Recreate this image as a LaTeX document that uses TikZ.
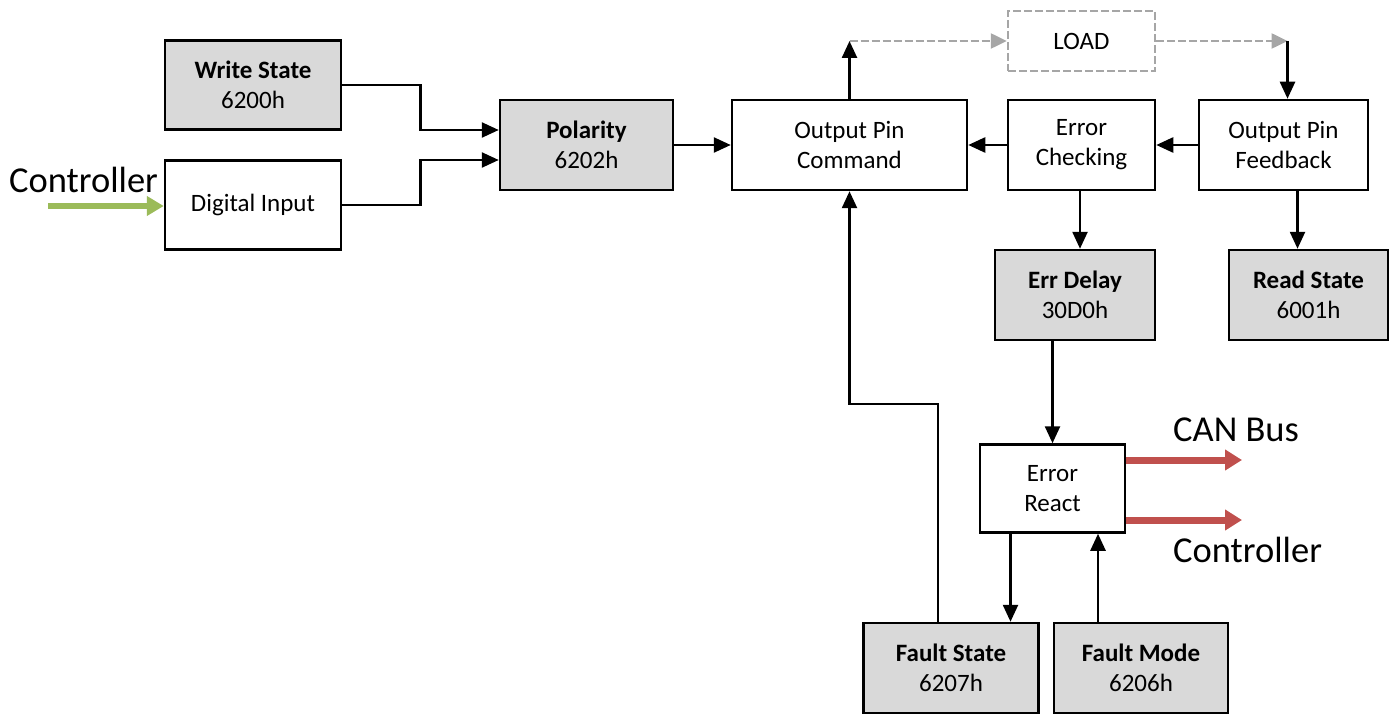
\documentclass[tikz,border=0pt]{standalone}
\usepackage{fontspec}
\setmainfont{Carlito}
\usetikzlibrary{arrows.meta,calc}
\definecolor{boxgray}{HTML}{D9D9D9}
\definecolor{loadgray}{HTML}{A6A6A6}
\definecolor{redarr}{HTML}{C0504D}
\definecolor{greenarr}{HTML}{9BBB59}
\tikzset{
  wbox/.style={draw=black, line width=2.5pt, fill=white, align=center, inner sep=0pt,
    font=\fontsize{25}{30}\selectfont},
  gbox/.style={wbox, fill=boxgray},
  loadbox/.style={draw=loadgray, line width=2.5pt, dash pattern=on 8pt off 3pt, align=center,
    font=\fontsize{25}{30}\selectfont, inner sep=0pt},
  conn/.style={draw=black, line width=2.5pt, -{Triangle[length=17pt,width=15pt]}},
  gconn/.style={draw=loadgray, line width=2.5pt, dash pattern=on 8pt off 3pt, -{Triangle[length=16pt,width=15pt]}},
  redconn/.style={draw=redarr, line width=7pt, -{Triangle[length=17pt,width=20pt]}},
  greenconn/.style={draw=greenarr, line width=6pt, -{Triangle[length=17pt,width=19pt]}},
  biglabel/.style={font=\fontsize{36.5}{40}\selectfont, inner sep=0pt},
}
\begin{document}
\begin{tikzpicture}[x=1pt,y=-1pt]
\useasboundingbox (0,0) rectangle (1394,714);
% boxes
\node[gbox, minimum width=176pt, minimum height=89pt] (ws) at (253,85) {\textbf{Write State}\\6200h};
\node[wbox, minimum width=176pt, minimum height=89pt] (di) at (253,205) {Digital Input};
\node[gbox, minimum width=173pt, minimum height=90pt] (pol) at (586.5,145) {\textbf{Polarity}\\6202h};
\node[wbox, minimum width=235pt, minimum height=90pt] (opc) at (849.5,145) {Output Pin\\Command};
\node[wbox, minimum width=147pt, minimum height=90pt] (ec) at (1081.5,145) {Error\\Checking};
\node[wbox, minimum width=169pt, minimum height=90pt] (fb) at (1283.5,145) {Output Pin\\Feedback};
\node[loadbox, minimum width=147pt, minimum height=60pt] (load) at (1081.5,41) {LOAD};
\node[gbox, minimum width=160pt, minimum height=90pt] (ed) at (1075,295) {\textbf{Err Delay}\\30D0h};
\node[gbox, minimum width=159pt, minimum height=90pt] (rs) at (1308.5,295) {\textbf{Read State}\\6001h};
\node[wbox, minimum width=145pt, minimum height=88pt] (er) at (1052.5,488.5) {Error\\React};
\node[gbox, minimum width=175pt, minimum height=90pt] (fs) at (951,668) {\textbf{Fault State}\\6207h};
\node[gbox, minimum width=174pt, minimum height=90pt] (fm) at (1141,668) {\textbf{Fault Mode}\\6206h};
% labels
\node[biglabel, anchor=west] (lc1) at (9,180) {Controller};
\node[biglabel, anchor=west] (lcan) at (1173,430) {CAN Bus};
\node[biglabel, anchor=west] (lc2) at (1173,550) {Controller};
% connectors
\draw[conn] (ws.east) -- ++(78,0) |- ($(pol.west)+(0,-15)$);
\draw[conn] (di.east) -- ++(78,0) |- ($(pol.west)+(0,15)$);
\draw[conn] (pol) -- (opc);
\draw[conn] (ec) -- (opc);
\draw[conn] (fb) -- (ec);
\coordinate (tl) at (opc.north |- load.west);
\coordinate (tr) at ($(fb.north |- load.east)+(4,0)$);
\draw[conn] (opc.north) -- (tl);
\draw[gconn] (tl) -- (load.west);
\draw[gconn] (load.east) -- (tr);
\draw[conn] (tr) -- (tr |- fb.north);
\draw[conn] ($(ec.south)+(-1.5,0)$) -- ($(ec.south |- ed.north)+(-1.5,0)$);
\draw[conn] ($(fb.south)+(14,0)$) -- ($(fb.south |- rs.north)+(14,0)$);
\draw[conn] (er.north |- ed.south) -- (er.north);
\draw[conn] ($(er.south)+(-42,0)$) -- ($(er.south |- fs.north)+(-42,0)$);
\draw[conn] ($(fm.north)+(-43,0)$) -- ($(fm.north |- er.south)+(-43,0)$);
\draw[conn] ($(fs.north)+(-13,0)$) -- ++(0,-218) -| (opc.south);
\coordinate (r1) at (1242,460);
\coordinate (r2) at (1242,520);
\draw[redconn] (er.east |- r1) -- (r1);
\draw[redconn] (er.east |- r2) -- (r2);
\coordinate (g1) at (48,206);
\draw[greenconn] (g1) -- (di.west |- g1);
\end{tikzpicture}
\end{document}
